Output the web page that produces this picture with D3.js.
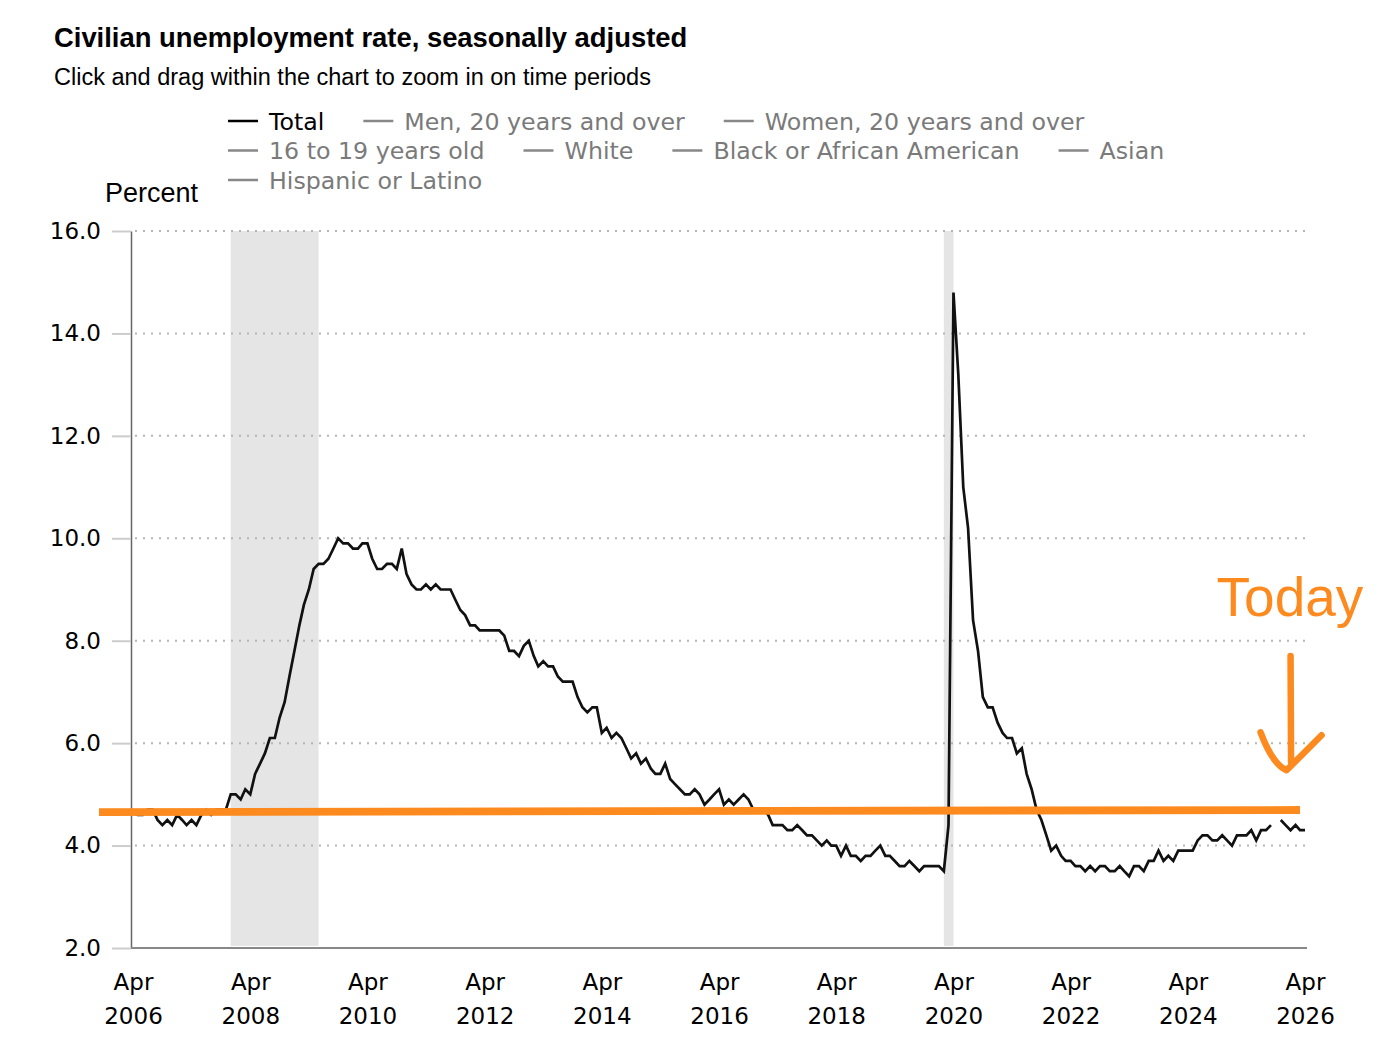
<!DOCTYPE html>
<html>
<head>
<meta charset="utf-8">
<script src="https://cdn.jsdelivr.net/npm/d3@7"></script>
<style>
  body { margin: 0; background: #fff; }
</style>
</head>
<body>
<svg id="chart" width="1400" height="1059"></svg>
<script>
// Monthly civilian unemployment rate (percent), Apr 2006 .. Apr 2026; null = no data (Oct 2025)
const firstMonth = "2006-04";
const totalRate = [
  4.7, 4.6, 4.6, 4.7, 4.7, 4.5, 4.4, 4.5, 4.4,                 // 2006 (Apr-Dec)
  4.6, 4.5, 4.4, 4.5, 4.4, 4.6, 4.7, 4.6, 4.7, 4.7, 4.7, 5.0,  // 2007
  5.0, 4.9, 5.1, 5.0, 5.4, 5.6, 5.8, 6.1, 6.1, 6.5, 6.8, 7.3,  // 2008
  7.8, 8.3, 8.7, 9.0, 9.4, 9.5, 9.5, 9.6, 9.8, 10.0, 9.9, 9.9, // 2009
  9.8, 9.8, 9.9, 9.9, 9.6, 9.4, 9.4, 9.5, 9.5, 9.4, 9.8, 9.3,  // 2010
  9.1, 9.0, 9.0, 9.1, 9.0, 9.1, 9.0, 9.0, 9.0, 8.8, 8.6, 8.5,  // 2011
  8.3, 8.3, 8.2, 8.2, 8.2, 8.2, 8.2, 8.1, 7.8, 7.8, 7.7, 7.9,  // 2012
  8.0, 7.7, 7.5, 7.6, 7.5, 7.5, 7.3, 7.2, 7.2, 7.2, 6.9, 6.7,  // 2013
  6.6, 6.7, 6.7, 6.2, 6.3, 6.1, 6.2, 6.1, 5.9, 5.7, 5.8, 5.6,  // 2014
  5.7, 5.5, 5.4, 5.4, 5.6, 5.3, 5.2, 5.1, 5.0, 5.0, 5.1, 5.0,  // 2015
  4.8, 4.9, 5.0, 5.1, 4.8, 4.9, 4.8, 4.9, 5.0, 4.9, 4.7, 4.7,  // 2016
  4.7, 4.6, 4.4, 4.4, 4.4, 4.3, 4.3, 4.4, 4.3, 4.2, 4.2, 4.1,  // 2017
  4.0, 4.1, 4.0, 4.0, 3.8, 4.0, 3.8, 3.8, 3.7, 3.8, 3.8, 3.9,  // 2018
  4.0, 3.8, 3.8, 3.7, 3.6, 3.6, 3.7, 3.6, 3.5, 3.6, 3.6, 3.6,  // 2019
  3.6, 3.5, 4.4, 14.8, 13.2, 11.0, 10.2, 8.4, 7.8, 6.9, 6.7, 6.7, // 2020
  6.4, 6.2, 6.1, 6.1, 5.8, 5.9, 5.4, 5.1, 4.7, 4.5, 4.2, 3.9,  // 2021
  4.0, 3.8, 3.7, 3.7, 3.6, 3.6, 3.5, 3.6, 3.5, 3.6, 3.6, 3.5,  // 2022
  3.5, 3.6, 3.5, 3.4, 3.6, 3.6, 3.5, 3.7, 3.7, 3.9, 3.7, 3.8,  // 2023
  3.7, 3.9, 3.9, 3.9, 3.9, 4.1, 4.2, 4.2, 4.1, 4.1, 4.2, 4.1,  // 2024
  4.0, 4.2, 4.2, 4.2, 4.3, 4.1, 4.3, 4.3, 4.4, null, 4.5, 4.4, // 2025
  4.3, 4.4, 4.3, 4.3                                           // 2026 (Jan-Apr)
];

// Shaded recession periods (start, end month)
const recessions = [["2007-12", "2009-06"], ["2020-02", "2020-04"]];

const yTicks = [2, 4, 6, 8, 10, 12, 14, 16];
const xTickMonths = ["2006-04", "2008-04", "2010-04", "2012-04", "2014-04", "2016-04",
  "2018-04", "2020-04", "2022-04", "2024-04", "2026-04"];

const legendLabels = ["Total", "Men, 20 years and over", "Women, 20 years and over",
  "16 to 19 years old", "White", "Black or African American", "Asian", "Hispanic or Latino"];

// Hand-drawn "Today" annotation: level line and arrow
const todayLevel = { from: "2005-09", to: "2026-03", startValue: 4.652, endValue: 4.695 };
const todayArrow = { month: "2026-01", topValue: 7.7, tipValue: 5.47 };

const parseMonth = d3.timeParse("%Y-%m");
const fmtMonth = d3.timeFormat("%b");
const fmtYear = d3.timeFormat("%Y");

const data = totalRate.map((v, i) => ({
  date: d3.timeMonth.offset(parseMonth(firstMonth), i),
  value: v
}));

const svg = d3.select("#chart");
const orange = "#fd8a1f";
const tickFont = "'DejaVu Sans', Verdana, sans-serif";
const headFont = "'Liberation Sans', Arial, Helvetica, sans-serif";

// Scales
const x = d3.scaleTime()
  .domain([parseMonth("2006-04"), parseMonth("2026-04")])
  .range([133, 1305]);
const y = d3.scaleLinear().domain([2, 16]).range([948, 231]);
const plotLeft = 131, plotRight = 1307;

// Title and subtitle
svg.append("text")
  .attr("x", 54).attr("y", 47)
  .style("font-family", headFont)
  .style("font-weight", "bold")
  .style("font-size", "27.4px")
  .text("Civilian unemployment rate, seasonally adjusted");

svg.append("text")
  .attr("x", 54).attr("y", 85)
  .style("font-family", headFont)
  .style("font-size", "23.5px")
  .text("Click and drag within the chart to zoom in on time periods");

// Legend (flows left to right, wraps)
const legend = svg.append("g");
let lx = 228, ly = 121;
legendLabels.forEach((label, i) => {
  const col = i === 0 ? "#000" : "#7a7a7a";
  const item = legend.append("g");
  const t = item.append("text")
    .attr("y", 8.5)
    .attr("x", 41)
    .style("font-family", tickFont)
    .style("font-size", "23.7px")
    .style("fill", col)
    .text(label);
  const w = 41 + t.node().getComputedTextLength();
  if (lx + w > 1300) { lx = 228; ly += 29.5; }
  item.attr("transform", `translate(${lx},${ly})`);
  item.append("line")
    .attr("x1", 0).attr("x2", 30)
    .attr("stroke", i === 0 ? "#000" : "#888")
    .attr("stroke-width", 2.5);
  lx += w + 39;
});

// Axis title
svg.append("text")
  .attr("x", 105).attr("y", 202)
  .style("font-family", headFont)
  .style("font-size", "27px")
  .text("Percent");

// Recession shading
svg.append("g")
  .selectAll("rect")
  .data(recessions)
  .join("rect")
  .attr("x", d => x(parseMonth(d[0])))
  .attr("width", d => x(parseMonth(d[1])) - x(parseMonth(d[0])))
  .attr("y", y(16))
  .attr("height", y(2) - y(16) - 2)
  .attr("fill", "#e5e5e5");

// Dotted gridlines
svg.append("g")
  .selectAll("line")
  .data(yTicks.filter(d => d > 2))
  .join("line")
  .attr("x1", plotLeft + 4).attr("x2", plotRight)
  .attr("y1", d => y(d)).attr("y2", d => y(d))
  .attr("stroke", "#b5b5b5")
  .attr("stroke-width", 2)
  .attr("stroke-dasharray", "2,6");

// Y axis
const yAxis = svg.append("g")
  .attr("transform", `translate(${plotLeft},0)`)
  .call(d3.axisLeft(y).tickValues(yTicks).tickFormat(d3.format(".1f")).tickSize(19).tickSizeOuter(0).tickPadding(11));
yAxis.select(".domain").attr("stroke", "#666").attr("stroke-width", 1.5);
yAxis.selectAll(".tick line").attr("stroke", "#ccc").attr("stroke-width", 2);
yAxis.selectAll(".tick text")
  .style("font-family", tickFont)
  .style("font-size", "23px")
  .attr("fill", "#000");

// X axis
const xAxis = svg.append("g")
  .attr("transform", `translate(0,${y(2)})`)
  .call(d3.axisBottom(x).tickValues(xTickMonths.map(parseMonth)).tickSize(0).tickSizeOuter(0).tickFormat(""));
xAxis.select(".domain").attr("stroke", "#888").attr("stroke-width", 2)
  .attr("d", `M${plotLeft},0H${plotRight}`);
xAxis.selectAll(".tick text").remove();
xAxis.selectAll(".tick").each(function (d) {
  const t = d3.select(this).append("text")
    .attr("text-anchor", "middle")
    .style("font-family", tickFont)
    .style("font-size", "23px")
    .attr("fill", "#000");
  t.append("tspan").attr("x", 0).attr("y", 42).text(fmtMonth(d));
  t.append("tspan").attr("x", 0).attr("y", 76).text(fmtYear(d));
});

// The series line
const line = d3.line()
  .defined(d => d.value != null)
  .x(d => x(d.date))
  .y(d => y(d.value));

svg.append("path")
  .datum(data)
  .attr("fill", "none")
  .attr("stroke", "#111")
  .attr("stroke-width", 2.7)
  .attr("d", line);

// "Today" annotation
svg.append("line")
  .attr("x1", x(parseMonth(todayLevel.from)))
  .attr("x2", x(parseMonth(todayLevel.to)))
  .attr("y1", y(todayLevel.startValue))
  .attr("y2", y(todayLevel.endValue))
  .attr("stroke", orange)
  .attr("stroke-width", 7.8);

const ax = x(parseMonth(todayArrow.month));
const aTop = y(todayArrow.topValue);
const aTip = y(todayArrow.tipValue);
const arrow = d3.path();
arrow.moveTo(ax, aTop);
arrow.lineTo(ax + 0.5, aTip - 8);
arrow.moveTo(ax - 30, aTip - 38);
arrow.quadraticCurveTo(ax - 18, aTip - 6, ax - 4, aTip);
arrow.lineTo(ax + 31, aTip - 35);

svg.append("path")
  .attr("d", arrow.toString())
  .attr("fill", "none")
  .attr("stroke", orange)
  .attr("stroke-width", 6.5)
  .attr("stroke-linecap", "round")
  .attr("stroke-linejoin", "round");

svg.append("text")
  .attr("x", ax - 74).attr("y", aTop - 40)
  .style("font-family", headFont)
  .style("font-size", "55px")
  .style("fill", orange)
  .text("Today");
</script>
</body>
</html>
